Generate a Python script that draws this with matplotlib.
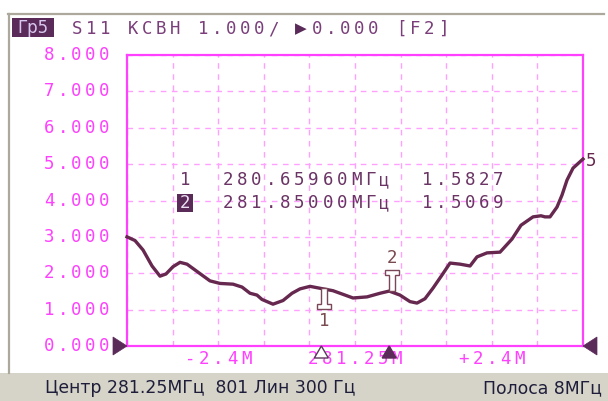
import matplotlib
matplotlib.use("Agg")
import matplotlib.pyplot as plt
import numpy as np
from matplotlib.transforms import IdentityTransform
from matplotlib.patches import Polygon, Rectangle
from matplotlib.lines import Line2D

# ---------------- data ----------------
center_mhz = 281.25
span_mhz = 8.0
freq_mhz = [277.250, 277.390, 277.531, 277.689, 277.829, 277.934, 278.057, 278.180,
            278.303, 278.478, 278.706, 278.882, 279.110, 279.268, 279.408, 279.530,
            279.618, 279.811, 279.987, 280.145, 280.285, 280.461, 280.660, 280.864,
            281.075, 281.215, 281.461, 281.689, 281.850, 282.039, 282.215, 282.338,
            282.478, 282.618, 282.776, 282.917, 283.092, 283.268, 283.390, 283.566,
            283.794, 284.004, 284.162, 284.373, 284.513, 284.583, 284.671, 284.794,
            284.882, 284.969, 285.075, 285.250]
swr = [3.00, 2.90, 2.64, 2.20, 1.92, 1.98, 2.18, 2.30,
       2.25, 2.05, 1.79, 1.72, 1.70, 1.62, 1.45, 1.40,
       1.28, 1.15, 1.25, 1.45, 1.57, 1.64, 1.58, 1.52,
       1.40, 1.32, 1.35, 1.45, 1.51, 1.40, 1.22, 1.18,
       1.30, 1.59, 1.95, 2.28, 2.25, 2.20, 2.45, 2.56,
       2.58, 2.94, 3.32, 3.55, 3.58, 3.55, 3.55, 3.82,
       4.15, 4.56, 4.89, 5.14]
marker_ids = ["1", "2"]
marker_freq = [280.65960, 281.85000]
marker_val = [1.5827, 1.5069]
y_ticks = [0, 1, 2, 3, 4, 5, 6, 7, 8]
y_tick_labels = ["0.000", "1.000", "2.000", "3.000", "4.000", "5.000", "6.000", "7.000", "8.000"]
x_label_offsets = [-2.4, 0.0, 2.4]
x_labels = ["-2.4M", "281.25M", "+2.4M"]
header_text = "S11 КСВН 1.000/"
header_ref = "0.000 [F2]"
status_left = "Центр 281.25МГц  801 Лин 300 Гц"
status_right = "Полоса 8МГц"

# ---------------- style ----------------
W, H = 608, 401
MAG = "#ff40ff"
GRID = "#ffa0ff"
TRACE = "#66284f"
TXT = "#6a3464"
DARK = "#5a2a58"
MS = 12.5  # mono font size

fig = plt.figure(figsize=(W / 100, H / 100), dpi=100)
fig.patch.set_facecolor("white")
ID = IdentityTransform()


def P(x, y):
    """image pixel (y down) -> display coords"""
    return (x, H - y)


def mono(s, x0, yc, pitch, color, size=MS, family="DejaVu Sans Mono", z=6):
    for i, ch in enumerate(s):
        if ch == " ":
            continue
        fig.text(x0 + (i + 0.5) * pitch, H - yc, ch, transform=ID, ha="center",
                 va="center", fontsize=size, color=color, family=family, zorder=z)


# background frame parts
fig.add_artist(Rectangle(P(0, 401), W, 28, transform=ID, facecolor="#d6d3c9",
                         edgecolor="none", zorder=0))
fig.add_artist(Line2D([8, 604], [H - 14, H - 14], transform=ID, color="#aca89c", lw=1.6))
fig.add_artist(Line2D([9, 9], [H - 14, H - 373], transform=ID, color="#aca89c", lw=1.6))

ax = fig.add_axes([127 / W, 1 - 346 / H, (583 - 127) / W, (346 - 55) / H])
f0 = center_mhz - span_mhz / 2
f1 = center_mhz + span_mhz / 2
ax.set_xlim(f0, f1)
ax.set_ylim(0, 8)
ax.set_xticks(np.linspace(f0, f1, 11))
ax.set_yticks(y_ticks)
ax.tick_params(length=0, labelleft=False, labelbottom=False)
ax.grid(True, color=GRID, lw=1.0, linestyle=(0, (4, 4)))
for sp in ax.spines.values():
    sp.set_color(MAG)
    sp.set_linewidth(1.6)
ax.set_facecolor("white")

ax.plot(freq_mhz, swr, color=TRACE, lw=2.4, solid_joinstyle="round", clip_on=False, zorder=3)

# y tick labels
for v, lab in zip(y_ticks, y_tick_labels):
    yd = ax.transData.transform((f0, v))[1]
    mono(lab, 111 - len(lab) * 13.8, H - yd, 13.8, MAG)

# x labels
for off, lab in zip(x_label_offsets, x_labels):
    xd = ax.transData.transform((center_mhz + off, 0))[0]
    mono(lab, xd - len(lab) * 14 / 2, 359, 14, MAG)

# reference-level triangles
fig.add_artist(Polygon([P(127, 346), P(113, 337), P(113, 355)], closed=True, transform=ID,
                       facecolor=DARK, edgecolor=DARK, lw=0.5))
fig.add_artist(Polygon([P(583, 346), P(597, 337), P(597, 355)], closed=True, transform=ID,
                       facecolor=DARK, edgecolor=DARK, lw=0.5))

# markers
for i, (mid, mf, mv) in enumerate(zip(marker_ids, marker_freq, marker_val)):
    xd, yd = ax.transData.transform((mf, mv))
    s = -1 if i == 0 else 1  # marker 1 flag below, marker 2 above
    shape = [(-3, 0), (3, 0), (3, 16), (7, 16), (7, 21), (-7, 21), (-7, 16), (-3, 16)]
    pts = [(xd + 3 + dx, yd + s * dy) for dx, dy in shape]
    fig.add_artist(Polygon(pts, closed=True, transform=ID, facecolor="white",
                           edgecolor="#7a4658", lw=1.0, zorder=5))
    fig.text(xd + 3, yd + s * 33, mid, transform=ID, ha="center", va="center",
             fontsize=MS, color="#7a4a50", family="DejaVu Sans Mono")
    # frequency triangle on x axis
    yb = ax.transData.transform((mf, 0))[1]
    tri = [(xd, yb), (xd - 7, yb - 12), (xd + 7, yb - 12)]
    if i == 0:
        fig.add_artist(Polygon(tri, closed=True, transform=ID, facecolor="white",
                               edgecolor="#5a3a5a", lw=1.0, zorder=7))
    else:
        fig.add_artist(Polygon(tri, closed=True, transform=ID, facecolor=DARK,
                               edgecolor=DARK, lw=1.0, zorder=7))

# marker table
rows_y = [180, 203]
for mid, mf, mv, yr in zip(marker_ids, marker_freq, marker_val, rows_y):
    line = f"{mid}  {mf:.5f}МГц  {mv:.4f}"
    if mid == "2":
        fig.add_artist(Rectangle(P(177, yr + 9), 16, 18, transform=ID, facecolor=DARK,
                                 edgecolor="none", zorder=4))
        mono(line[0], 178, yr, 14.25, "#ece0f4", z=8)
        mono("   " + line[3:], 178, yr, 14.25, TXT)
    else:
        mono(line, 178, yr, 14.25, TXT)

# trace label
fig.text(591, H - 161, "5", transform=ID, ha="center", va="center", fontsize=MS,
         color=TRACE, family="DejaVu Sans Mono")

# header
fig.add_artist(Rectangle(P(12, 37), 42, 19, transform=ID, facecolor=DARK, edgecolor="none"))
fig.text(33, H - 28, "Гр5", transform=ID, ha="center", va="center", fontsize=12,
         color="#d8c8f0", family="DejaVu Sans", zorder=8)
mono(header_text, 70, 29, 14, "#7a3f7a")
fig.text(301, H - 29, "▶", transform=ID, ha="center", va="center", fontsize=11,
         color=DARK, family="DejaVu Sans")
mono(header_ref, 310, 29, 14, "#7a3f7a")

# status bar
fig.text(45, H - 388, status_left, transform=ID, ha="left", va="center", fontsize=12.4,
         color="#1e1e3a", family="DejaVu Sans")
fig.text(602, H - 388, status_right, transform=ID, ha="right", va="center", fontsize=12.4,
         color="#1e1e3a", family="DejaVu Sans")

fig.savefig("out.png", dpi=100)
